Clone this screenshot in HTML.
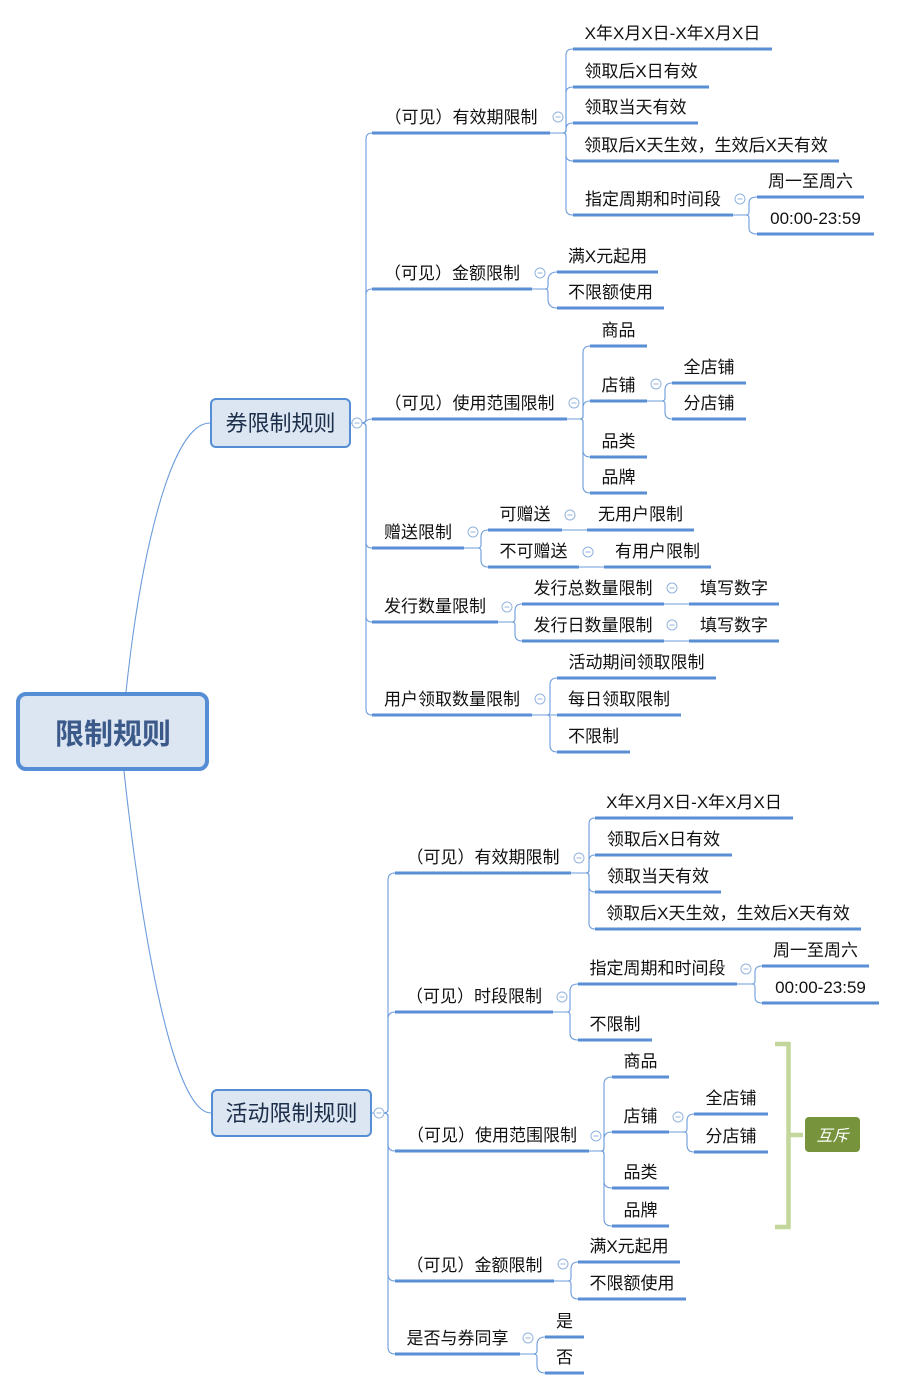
<!DOCTYPE html>
<html><head><meta charset="utf-8"><style>
html,body{margin:0;padding:0;background:#fff;}
svg{display:block;}
.t{font-family:"Liberation Sans","Noto Sans CJK SC",sans-serif;font-size:17px;fill:#111;text-anchor:middle;}
.u{stroke:#5A8ED5;stroke-width:3;fill:none;}
.c{stroke:#6C9CDC;stroke-width:1.1;fill:none;}
.k{fill:#fff;stroke:#93B3DD;stroke-width:1;}
.km{stroke:#93B3DD;stroke-width:1;}
</style></head><body>
<svg width="897" height="1390" viewBox="0 0 897 1390" xmlns="http://www.w3.org/2000/svg">
<!-- root connectors -->
<path class="c" d="M126 692 C140 560 170 423 210 423"/>
<path class="c" d="M124 771 C138 903 170 1113 211 1113"/>

<!-- TOP L1 connectors -->
<path class="c" d="M351 423 L361 423"/>
<path class="c" d="M361 423 Q366 423 366 420 L366 139 Q366 133 372 133"/>
<path class="c" d="M361 423 Q366 423 366 420 L366 295 Q366 289 372 289"/>
<path class="c" d="M361 423 C366 423 366 419 372 419"/>
<path class="c" d="M361 423 Q366 423 366 426 L366 542 Q366 548 372 548"/>
<path class="c" d="M361 423 Q366 423 366 426 L366 616 Q366 622 372 622"/>
<path class="c" d="M361 423 Q366 423 366 426 L366 709 Q366 715 372 715"/>

<!-- A1 children -->
<path class="c" d="M550 133 L563 133 Q566 133 566 130 L566 55 Q566 49 573 49"/>
<path class="c" d="M550 133 L563 133 Q566 133 566 130 L566 93 Q566 87 573 87"/>
<path class="c" d="M550 133 L563 133 Q566 133 566 130 L566 129 Q566 123 573 123"/>
<path class="c" d="M550 133 L563 133 Q566 133 566 136 L566 155 Q566 161 573 161"/>
<path class="c" d="M550 133 L563 133 Q566 133 566 136 L566 209 Q566 215 573 215"/>
<path class="c" d="M733 215 L746 215 Q749 215 749 212 L749 203 Q749 197 757 197"/>
<path class="c" d="M733 215 L746 215 Q749 215 749 218 L749 228 Q749 234 757 234"/>
<!-- A2 -->
<path class="c" d="M532 289 L545 289 Q548 289 548 286 L548 281 Q548 272 557 272"/>
<path class="c" d="M532 289 L545 289 Q548 289 548 292 L548 299 Q548 308 557 308"/>
<!-- A3 -->
<path class="c" d="M567 419 L580 419 Q583 419 583 416 L583 353 Q583 346 590 346"/>
<path class="c" d="M567 419 L580 419 Q583 419 583 416 L583 408 Q583 401 590 401"/>
<path class="c" d="M567 419 L580 419 Q583 419 583 422 L583 450 Q583 457 590 457"/>
<path class="c" d="M567 419 L580 419 Q583 419 583 422 L583 486 Q583 493 590 493"/>
<path class="c" d="M647 401 L662 401 Q665 401 665 398 L665 390 Q665 383 672 383"/>
<path class="c" d="M647 401 L662 401 Q665 401 665 404 L665 412 Q665 419 672 419"/>
<!-- A4 -->
<path class="c" d="M464 548 L478 548 Q481 548 481 545 L481 537 Q481 530 488 530"/>
<path class="c" d="M464 548 L478 548 Q481 548 481 551 L481 560 Q481 567 488 567"/>
<path class="c" d="M562 530 L587 530"/>
<path class="c" d="M579 567 L604 567"/>
<!-- A5 -->
<path class="c" d="M498 622 L512 622 Q515 622 515 619 L515 611 Q515 604 522 604"/>
<path class="c" d="M498 622 L512 622 Q515 622 515 625 L515 634 Q515 641 522 641"/>
<path class="c" d="M664 604 L689 604"/>
<path class="c" d="M664 641 L689 641"/>
<!-- A6 -->
<path class="c" d="M532 715 L547 715 Q550 715 550 712 L550 685 Q550 678 557 678"/>
<path class="c" d="M532 715 L557 715"/>
<path class="c" d="M532 715 L547 715 Q550 715 550 718 L550 745 Q550 752 557 752"/>

<!-- BOTTOM L1 -->
<path class="c" d="M372 1113 L383 1113"/>
<path class="c" d="M383 1113 Q388 1113 388 1110 L388 880 Q388 873 395 873"/>
<path class="c" d="M383 1113 Q388 1113 388 1110 L388 1019 Q388 1012 395 1012"/>
<path class="c" d="M383 1113 Q388 1113 388 1116 L388 1144 Q388 1151 395 1151"/>
<path class="c" d="M383 1113 Q388 1113 388 1116 L388 1274 Q388 1281 395 1281"/>
<path class="c" d="M383 1113 Q388 1113 388 1116 L388 1347 Q388 1354 395 1354"/>
<!-- B1 -->
<path class="c" d="M571 873 L586 873 Q589 873 589 870 L589 824 Q589 818 595 818"/>
<path class="c" d="M571 873 L586 873 Q589 873 589 870 L589 861 Q589 855 595 855"/>
<path class="c" d="M571 873 L586 873 Q589 873 589 876 L589 886 Q589 892 595 892"/>
<path class="c" d="M571 873 L586 873 Q589 873 589 876 L589 923 Q589 929 595 929"/>
<!-- B2 -->
<path class="c" d="M553 1012 L567 1012 Q570 1012 570 1009 L570 991 Q570 984 578 984"/>
<path class="c" d="M553 1012 L567 1012 Q570 1012 570 1015 L570 1033 Q570 1040 578 1040"/>
<path class="c" d="M737 984 L752 984 Q755 984 755 981 L755 972 Q755 966 762 966"/>
<path class="c" d="M737 984 L752 984 Q755 984 755 987 L755 997 Q755 1003 762 1003"/>
<!-- B3 -->
<path class="c" d="M589 1151 L601 1151 Q604 1151 604 1148 L604 1084 Q604 1077 612 1077"/>
<path class="c" d="M589 1151 L601 1151 Q604 1151 604 1148 L604 1139 Q604 1132 612 1132"/>
<path class="c" d="M589 1151 L601 1151 Q604 1151 604 1154 L604 1181 Q604 1188 612 1188"/>
<path class="c" d="M589 1151 L601 1151 Q604 1151 604 1154 L604 1219 Q604 1226 612 1226"/>
<path class="c" d="M669 1132 L684 1132 Q687 1132 687 1129 L687 1121 Q687 1114 694 1114"/>
<path class="c" d="M669 1132 L684 1132 Q687 1132 687 1135 L687 1145 Q687 1152 694 1152"/>
<!-- B4 -->
<path class="c" d="M554 1281 L568 1281 Q571 1281 571 1278 L571 1269 Q571 1262 578 1262"/>
<path class="c" d="M554 1281 L568 1281 Q571 1281 571 1284 L571 1292 Q571 1299 578 1299"/>
<!-- B5 -->
<path class="c" d="M520 1354 L533 1354 Q537 1354 537 1351 L537 1345 Q537 1337 545 1337"/>
<path class="c" d="M520 1354 L533 1354 Q537 1354 537 1357 L537 1365 Q537 1373 545 1373"/>

<!-- underlines -->
<g class="u">
<line x1="372" y1="133" x2="550" y2="133"/>
<line x1="372" y1="289" x2="532" y2="289"/>
<line x1="372" y1="419" x2="567" y2="419"/>
<line x1="372" y1="548" x2="464" y2="548"/>
<line x1="372" y1="622" x2="498" y2="622"/>
<line x1="372" y1="715" x2="532" y2="715"/>
<line x1="573" y1="49" x2="772" y2="49"/>
<line x1="573" y1="87" x2="709" y2="87"/>
<line x1="573" y1="123" x2="698" y2="123"/>
<line x1="573" y1="161" x2="839" y2="161"/>
<line x1="573" y1="215" x2="733" y2="215"/>
<line x1="757" y1="197" x2="864" y2="197"/>
<line x1="757" y1="234" x2="874" y2="234"/>
<line x1="557" y1="272" x2="658" y2="272"/>
<line x1="557" y1="308" x2="664" y2="308"/>
<line x1="590" y1="346" x2="647" y2="346"/>
<line x1="590" y1="401" x2="647" y2="401"/>
<line x1="672" y1="383" x2="746" y2="383"/>
<line x1="672" y1="419" x2="746" y2="419"/>
<line x1="590" y1="457" x2="647" y2="457"/>
<line x1="590" y1="493" x2="647" y2="493"/>
<line x1="488" y1="530" x2="562" y2="530"/>
<line x1="587" y1="530" x2="694" y2="530"/>
<line x1="488" y1="567" x2="579" y2="567"/>
<line x1="604" y1="567" x2="711" y2="567"/>
<line x1="522" y1="604" x2="664" y2="604"/>
<line x1="689" y1="604" x2="779" y2="604"/>
<line x1="522" y1="641" x2="664" y2="641"/>
<line x1="689" y1="641" x2="779" y2="641"/>
<line x1="557" y1="678" x2="716" y2="678"/>
<line x1="557" y1="715" x2="681" y2="715"/>
<line x1="557" y1="752" x2="630" y2="752"/>
<!-- bottom -->
<line x1="395" y1="873" x2="571" y2="873"/>
<line x1="395" y1="1012" x2="553" y2="1012"/>
<line x1="395" y1="1151" x2="589" y2="1151"/>
<line x1="395" y1="1281" x2="554" y2="1281"/>
<line x1="395" y1="1354" x2="520" y2="1354"/>
<line x1="595" y1="818" x2="793" y2="818"/>
<line x1="595" y1="855" x2="732" y2="855"/>
<line x1="595" y1="892" x2="721" y2="892"/>
<line x1="595" y1="929" x2="861" y2="929"/>
<line x1="578" y1="984" x2="737" y2="984"/>
<line x1="762" y1="966" x2="869" y2="966"/>
<line x1="762" y1="1003" x2="879" y2="1003"/>
<line x1="578" y1="1040" x2="652" y2="1040"/>
<line x1="612" y1="1077" x2="669" y2="1077"/>
<line x1="612" y1="1132" x2="669" y2="1132"/>
<line x1="694" y1="1114" x2="768" y2="1114"/>
<line x1="694" y1="1152" x2="768" y2="1152"/>
<line x1="612" y1="1188" x2="669" y2="1188"/>
<line x1="612" y1="1226" x2="669" y2="1226"/>
<line x1="578" y1="1262" x2="680" y2="1262"/>
<line x1="578" y1="1299" x2="686" y2="1299"/>
<line x1="545" y1="1337" x2="584" y2="1337"/>
<line x1="545" y1="1373" x2="584" y2="1373"/>
</g>

<!-- boxes -->
<rect x="18" y="694" width="189" height="75" rx="8" fill="#DCE6F2" stroke="#558ED5" stroke-width="4"/>
<text x="113" y="744" style="font-family:'Liberation Sans','Noto Sans CJK SC',sans-serif;font-size:29px;font-weight:bold;fill:#3B5A8A;text-anchor:middle;">限制规则</text>
<rect x="211" y="399" width="139" height="48" rx="5" fill="#DCE6F2" stroke="#558ED5" stroke-width="2"/>
<text x="280.5" y="431" style="font-family:'Liberation Sans','Noto Sans CJK SC',sans-serif;font-size:22px;fill:#1C2E4A;text-anchor:middle;">券限制规则</text>
<rect x="212" y="1090" width="159" height="46" rx="5" fill="#DCE6F2" stroke="#558ED5" stroke-width="2"/>
<text x="291.5" y="1121" style="font-family:'Liberation Sans','Noto Sans CJK SC',sans-serif;font-size:22px;fill:#1C2E4A;text-anchor:middle;">活动限制规则</text>

<!-- texts TOP -->
<text class="t" x="461" y="123">（可见）有效期限制</text>
<text class="t" x="452" y="279">（可见）金额限制</text>
<text class="t" x="469.5" y="409">（可见）使用范围限制</text>
<text class="t" x="418" y="538">赠送限制</text>
<text class="t" x="435" y="612">发行数量限制</text>
<text class="t" x="452" y="705">用户领取数量限制</text>
<text class="t" x="672.5" y="39">X年X月X日-X年X月X日</text>
<text class="t" x="641" y="77">领取后X日有效</text>
<text class="t" x="635.5" y="113">领取当天有效</text>
<text class="t" x="706" y="151">领取后X天生效，生效后X天有效</text>
<text class="t" x="653" y="205">指定周期和时间段</text>
<text class="t" x="810.5" y="187">周一至周六</text>
<text class="t" x="815.5" y="224">00:00-23:59</text>
<text class="t" x="607.5" y="262">满X元起用</text>
<text class="t" x="610.5" y="298">不限额使用</text>
<text class="t" x="618.5" y="336">商品</text>
<text class="t" x="618.5" y="391">店铺</text>
<text class="t" x="709" y="373">全店铺</text>
<text class="t" x="709" y="409">分店铺</text>
<text class="t" x="618.5" y="447">品类</text>
<text class="t" x="618.5" y="483">品牌</text>
<text class="t" x="525" y="520">可赠送</text>
<text class="t" x="640.5" y="520">无用户限制</text>
<text class="t" x="533.5" y="557">不可赠送</text>
<text class="t" x="657.5" y="557">有用户限制</text>
<text class="t" x="593" y="594">发行总数量限制</text>
<text class="t" x="734" y="594">填写数字</text>
<text class="t" x="593" y="631">发行日数量限制</text>
<text class="t" x="734" y="631">填写数字</text>
<text class="t" x="636.5" y="668">活动期间领取限制</text>
<text class="t" x="619" y="705">每日领取限制</text>
<text class="t" x="593.5" y="742">不限制</text>

<!-- texts BOTTOM -->
<text class="t" x="483" y="863">（可见）有效期限制</text>
<text class="t" x="474" y="1002">（可见）时段限制</text>
<text class="t" x="492" y="1141">（可见）使用范围限制</text>
<text class="t" x="474.5" y="1271">（可见）金额限制</text>
<text class="t" x="457.5" y="1344">是否与券同享</text>
<text class="t" x="694" y="808">X年X月X日-X年X月X日</text>
<text class="t" x="663.5" y="845">领取后X日有效</text>
<text class="t" x="658" y="882">领取当天有效</text>
<text class="t" x="728" y="919">领取后X天生效，生效后X天有效</text>
<text class="t" x="657.5" y="974">指定周期和时间段</text>
<text class="t" x="815.5" y="956">周一至周六</text>
<text class="t" x="820.5" y="993">00:00-23:59</text>
<text class="t" x="615" y="1030">不限制</text>
<text class="t" x="640.5" y="1067">商品</text>
<text class="t" x="640.5" y="1122">店铺</text>
<text class="t" x="731" y="1104">全店铺</text>
<text class="t" x="731" y="1142">分店铺</text>
<text class="t" x="640.5" y="1178">品类</text>
<text class="t" x="640.5" y="1216">品牌</text>
<text class="t" x="629" y="1252">满X元起用</text>
<text class="t" x="632" y="1289">不限额使用</text>
<text class="t" x="564.5" y="1327">是</text>
<text class="t" x="564.5" y="1363">否</text>

<!-- collapse circles -->
<g>
<circle class="k" cx="357" cy="423" r="5"/><line class="km" x1="354.5" y1="423" x2="359.5" y2="423"/>
<circle class="k" cx="558" cy="117" r="5"/><line class="km" x1="555.5" y1="117" x2="560.5" y2="117"/>
<circle class="k" cx="540" cy="273" r="5"/><line class="km" x1="537.5" y1="273" x2="542.5" y2="273"/>
<circle class="k" cx="574" cy="403" r="5"/><line class="km" x1="571.5" y1="403" x2="576.5" y2="403"/>
<circle class="k" cx="656" cy="384" r="5"/><line class="km" x1="653.5" y1="384" x2="658.5" y2="384"/>
<circle class="k" cx="740" cy="199" r="5"/><line class="km" x1="737.5" y1="199" x2="742.5" y2="199"/>
<circle class="k" cx="473" cy="532" r="5"/><line class="km" x1="470.5" y1="532" x2="475.5" y2="532"/>
<circle class="k" cx="570" cy="515" r="5"/><line class="km" x1="567.5" y1="515" x2="572.5" y2="515"/>
<circle class="k" cx="588" cy="552" r="5"/><line class="km" x1="585.5" y1="552" x2="590.5" y2="552"/>
<circle class="k" cx="507" cy="607" r="5"/><line class="km" x1="504.5" y1="607" x2="509.5" y2="607"/>
<circle class="k" cx="672" cy="588" r="5"/><line class="km" x1="669.5" y1="588" x2="674.5" y2="588"/>
<circle class="k" cx="672" cy="625" r="5"/><line class="km" x1="669.5" y1="625" x2="674.5" y2="625"/>
<circle class="k" cx="540" cy="699" r="5"/><line class="km" x1="537.5" y1="699" x2="542.5" y2="699"/>
<circle class="k" cx="379" cy="1113" r="5"/><line class="km" x1="376.5" y1="1113" x2="381.5" y2="1113"/>
<circle class="k" cx="579" cy="858" r="5"/><line class="km" x1="576.5" y1="858" x2="581.5" y2="858"/>
<circle class="k" cx="562" cy="997" r="5"/><line class="km" x1="559.5" y1="997" x2="564.5" y2="997"/>
<circle class="k" cx="746" cy="969" r="5"/><line class="km" x1="743.5" y1="969" x2="748.5" y2="969"/>
<circle class="k" cx="596" cy="1136" r="5"/><line class="km" x1="593.5" y1="1136" x2="598.5" y2="1136"/>
<circle class="k" cx="678" cy="1117" r="5"/><line class="km" x1="675.5" y1="1117" x2="680.5" y2="1117"/>
<circle class="k" cx="563" cy="1264" r="5"/><line class="km" x1="560.5" y1="1264" x2="565.5" y2="1264"/>
<circle class="k" cx="528" cy="1338" r="5"/><line class="km" x1="525.5" y1="1338" x2="530.5" y2="1338"/>
</g>

<!-- bracket + 互斥 -->
<path d="M775 1044 L788.5 1044 L788.5 1227 L775 1227" fill="none" stroke="#C3D69B" stroke-width="4.5"/>
<line x1="788" y1="1135" x2="803" y2="1135" stroke="#C3D69B" stroke-width="4.5"/>
<rect x="805" y="1117" width="55" height="35" rx="4" fill="#77933C"/>
<text x="832.5" y="1141" style="font-family:'Liberation Sans','Noto Sans CJK SC',sans-serif;font-size:16px;font-style:italic;fill:#fff;text-anchor:middle;">互斥</text>
</svg>
</body></html>
